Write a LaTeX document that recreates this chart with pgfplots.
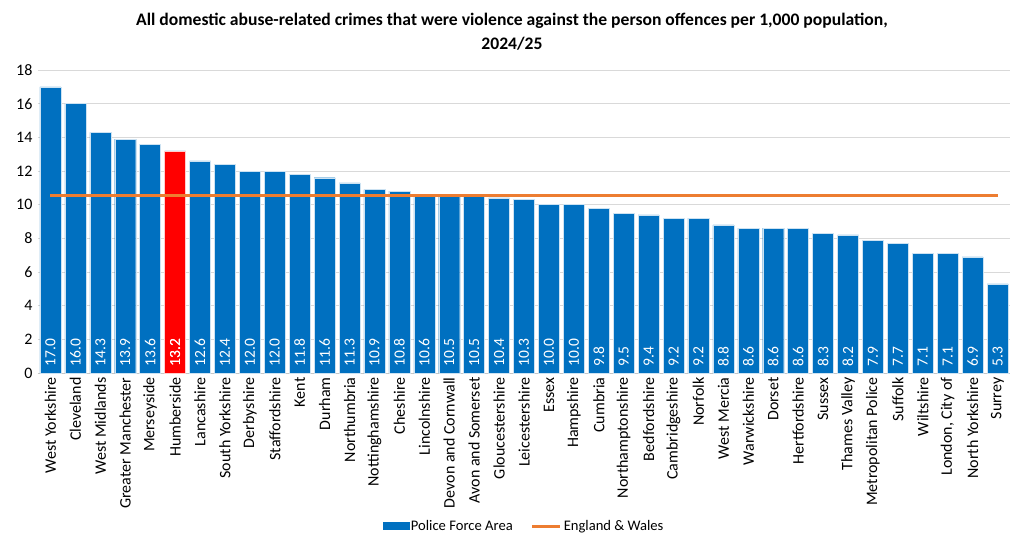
\documentclass[border=0pt]{standalone}
\usepackage{fontspec}
\setmainfont{Carlito}
\usepackage{pgfplots}
\pgfplotsset{compat=1.18}
\usepackage{pgfplotstable}

\definecolor{pfablue}{HTML}{0070C0}
\definecolor{ewline}{HTML}{ED7D31}
\definecolor{gridgray}{HTML}{D9D9D9}

% Rate per 1,000 population by police force area
\pgfplotstableread[col sep=comma]{
idx,rate
0,17.0
1,16.0
2,14.3
3,13.9
4,13.6
5,13.2
6,12.6
7,12.4
8,12.0
9,12.0
10,11.8
11,11.6
12,11.3
13,10.9
14,10.8
15,10.6
16,10.5
17,10.5
18,10.4
19,10.3
20,10.0
21,10.0
22,9.8
23,9.5
24,9.4
25,9.2
26,9.2
27,8.8
28,8.6
29,8.6
30,8.6
31,8.3
32,8.2
33,7.9
34,7.7
35,7.1
36,7.1
37,6.9
38,5.3
}\ratetable

% Highlighted force
\pgfplotstableread[col sep=comma]{
idx,rate
5,13.2
}\hltable

% England & Wales average
\pgfplotstableread[col sep=comma]{
idx,rate
0,10.53
38,10.53
}\ewtable

\pgfplotsset{
  barlabels/.style={
    visualization depends on=y \as \rawy,
    nodes near coords={\pgfmathprintnumber[fixed, fixed zerofill, precision=1]{\pgfplotspointmeta}},
    every node near coord/.append style={
      shift={(axis direction cs:0,-\rawy)}, yshift=3pt,
      rotate=90, anchor=west, text=white,
      font=\fontsize{15.5}{16}\selectfont,
    },
  },
}

\begin{document}
\begin{tikzpicture}
\path[use as bounding box] (-38pt,-173pt) rectangle (987pt,373pt);
\begin{axis}[
  at={(0pt,0pt)}, anchor=south west,
  scale only axis,
  width=972pt, height=303pt,
  xmin=-0.5, xmax=38.5,
  ymin=0, ymax=18,
  ytick={0,2,...,18},
  ymajorgrids,
  grid style={gridgray, line width=0.8pt},
  axis line style={draw=none},
  major tick length=0pt,
  xtick={0,...,38},
  xticklabels={West Yorkshire,Cleveland,West Midlands,Greater Manchester,Merseyside,Humberside,Lancashire,South Yorkshire,Derbyshire,Staffordshire,Kent,Durham,Northumbria,Nottinghamshire,Cheshire,Lincolnshire,Devon and Cornwall,Avon and Somerset,Gloucestershire,Leicestershire,Essex,Hampshire,Cumbria,Northamptonshire,Bedfordshire,Cambridgeshire,Norfolk,West Mercia,Warwickshire,Dorset,Hertfordshire,Sussex,Thames Valley,Metropolitan Police,Suffolk,Wiltshire,{London, City of},North Yorkshire,Surrey},
  xticklabel style={rotate=90, anchor=east, font=\fontsize{16}{16}\selectfont, text=black, xshift=-1pt},
  yticklabel style={font=\fontsize{16}{16}\selectfont, text=black, xshift=-2pt},
  /pgf/number format/assume math mode=true,
  ybar, bar width=21pt,
  clip=false,
  legend style={
    at={(0.5,-0.505)}, anchor=center,
    draw=none, fill=none,
    legend columns=2,
    font=\fontsize{14.6}{15}\selectfont,
    /tikz/every even column/.append style={column sep=16pt},
  },
  legend cell align=left,
]
\draw[gray!45, line width=0.8pt] (axis cs:-0.5,0) -- (axis cs:38.5,0);

\addplot[
  bar shift=0pt, fill=pfablue, draw=white!80!pfablue, line width=0.4pt,
  barlabels,
  legend image code/.code={\fill[pfablue] (0pt,-3.5pt) rectangle (26pt,3.5pt);},
] table[x=idx, y=rate] {\ratetable};
\addlegendentry{Police Force Area}

\addplot[
  bar shift=0pt, fill=red, draw=white!80!red, line width=0.4pt,
  forget plot,
  barlabels,
] table[x=idx, y=rate] {\hltable};

\addplot[sharp plot, ewline, line width=3pt,
  legend image code/.code={\draw[ewline, line width=3pt] (0pt,0pt) -- (28pt,0pt);}]
  table[x=idx, y=rate] {\ewtable};
\addlegendentry{England \& Wales}
\end{axis}
\node[font=\fontsize{17.6}{24}\selectfont\bfseries, align=center, anchor=center]
  at (474pt,341pt) {All domestic abuse-related crimes that were violence against the person offences per 1,000 population,\\2024/25};
\end{tikzpicture}
\end{document}
